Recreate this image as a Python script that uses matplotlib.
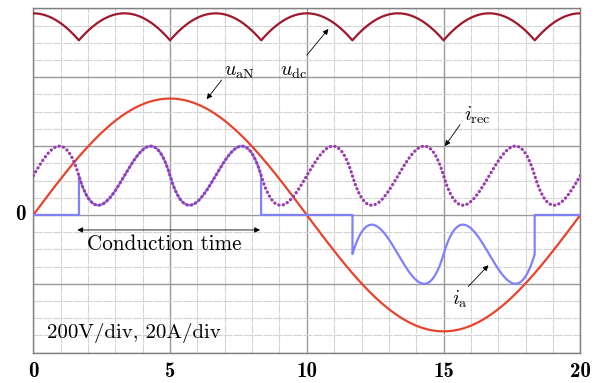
import matplotlib
matplotlib.use("Agg")
import matplotlib.pyplot as plt
import numpy as np

plt.rcParams['mathtext.fontset'] = 'cm'

# Values (time in ms, amplitudes in divisions)
period = 20.0                     # mains period
uan_peak = 1.69                   # u_aN amplitude
irec_mean = 0.57                  # i_rec mean level
irec_peak = 1.00                  # i_rec maxima
irec_valley = 0.14                # i_rec minima
cond_on = [1.67, 11.67]           # phase a starts conducting
cond_off = [8.33, 18.33]          # phase a stops conducting
cond_sign = [1, -1]
xticks = [0, 5, 10, 15, 20]
xtick_labels = ["0", "5", "10", "15", "20"]

DC_RED = "#a0182c"
AN_RED = "#e8442c"
PURPLE = "#9a3cae"
BLUE = "#8080ff"

t = np.linspace(0, period, 4001)
t = np.sort(np.concatenate([t, cond_on, cond_off]))
theta = 2 * np.pi * t / period

# phase and line voltages
va = uan_peak * np.sin(theta)
vb = uan_peak * np.sin(theta - 2 * np.pi / 3)
vc = uan_peak * np.sin(theta + 2 * np.pi / 3)
udc = np.max(np.abs(np.vstack([va - vb, vb - vc, vc - va])), axis=0)

# dc-side current ripple (six-pulse, integrated voltage ripple)
ph = (theta + np.pi / 6) % (np.pi / 3) - np.pi / 6
ripple = np.sin(ph) - (3 / np.pi) * ph
k = (irec_peak - irec_valley) / 2 / 0.00906
irec = irec_mean + k * ripple

# phase-a current: follows +/- i_rec while conducting
ia = np.zeros_like(t)
for on, off, s in zip(cond_on, cond_off, cond_sign):
    m = (t >= on) & (t < off)
    ia[m] = s * irec[m]
# insert vertical edges
tx = t.copy()
iy = ia.copy()
for on, off, s in zip(cond_on, cond_off, cond_sign):
    j = np.searchsorted(tx, on)
    tx = np.insert(tx, j, on)
    iy = np.insert(iy, j, 0.0)
    j = np.searchsorted(tx, off)
    tx = np.insert(tx, j, off)
    iy = np.insert(iy, j, s * np.interp(off - 1e-6, t, irec))

fig = plt.figure(figsize=(6.03, 3.83), dpi=100)
ax = fig.add_axes([0.0552, 0.0791, 0.9072, 0.8992])
ax.set_xlim(0, 20)
ax.set_ylim(-2, 3)

ax.set_xticks(xticks)
ax.set_xticklabels(xtick_labels, fontfamily="cmb10", fontsize=15)
ax.set_xticks(np.arange(0, 21, 1), minor=True)
ax.set_yticks(np.arange(-2, 4, 1))
ax.set_yticklabels([])
ax.set_yticks(np.arange(-2, 3.01, 0.25), minor=True)
ax.tick_params(which="both", length=0)
ax.tick_params(axis="x", pad=7)
ax.grid(which="minor", color="#d4d4d4", lw=0.8, ls=(0, (8, 1)))
ax.grid(which="major", color="#999999", lw=1.0)
ax.set_axisbelow(True)
for sp in ax.spines.values():
    sp.set_color("#808080")
    sp.set_linewidth(1.0)

ax.plot(t, udc, color=DC_RED, lw=1.6, zorder=3)
ax.plot(t, va, color=AN_RED, lw=1.6, zorder=3)
ax.plot(tx, iy, color=BLUE, lw=1.6, zorder=4)
ax.plot(t, irec, color=PURPLE, lw=2.3, ls=(0, (0.1, 1.3)),
        dash_capstyle="round", zorder=5)

ax.text(-0.27, 0, "0", fontfamily="cmb10", fontsize=15, ha="right", va="center")

arrow = dict(arrowstyle="-|>", color="black", lw=0.6, mutation_scale=8,
             shrinkA=0, shrinkB=0)
ax.text(7.55, 2.08, r"$u_{\rm aN}$", fontsize=14.5, ha="center", va="center")
ax.annotate("", xy=(6.34, 1.68), xytext=(6.89, 1.96), arrowprops=arrow)
ax.text(9.5, 2.08, r"$u_{\rm dc}$", fontsize=14.5, ha="center", va="center")
ax.annotate("", xy=(10.79, 2.70), xytext=(10.0, 2.32), arrowprops=arrow)
ax.text(16.24, 1.45, r"$i_{\rm rec}$", fontsize=14.5, ha="center", va="center")
ax.annotate("", xy=(15.05, 1.0), xytext=(15.6, 1.31), arrowprops=arrow)
ax.text(15.6, -1.23, r"$i_{\rm a}$", fontsize=14.5, ha="center", va="center")
ax.annotate("", xy=(16.64, -0.73), xytext=(15.9, -1.04), arrowprops=arrow)

ax.annotate("", xy=(1.61, -0.218), xytext=(8.29, -0.218),
            arrowprops=dict(arrowstyle="<|-|>", color="black", lw=0.6,
                            mutation_scale=8, shrinkA=0, shrinkB=0))
ax.text(4.8, -0.42, "Conduction time", fontfamily="cmr10", fontsize=15.2,
        ha="center", va="center")
ax.text(0.5, -1.71, "200V/div, 20A/div", fontfamily="cmr10", fontsize=15,
        ha="left", va="center")

plt.savefig("out.png", dpi=100)
plt.close()
